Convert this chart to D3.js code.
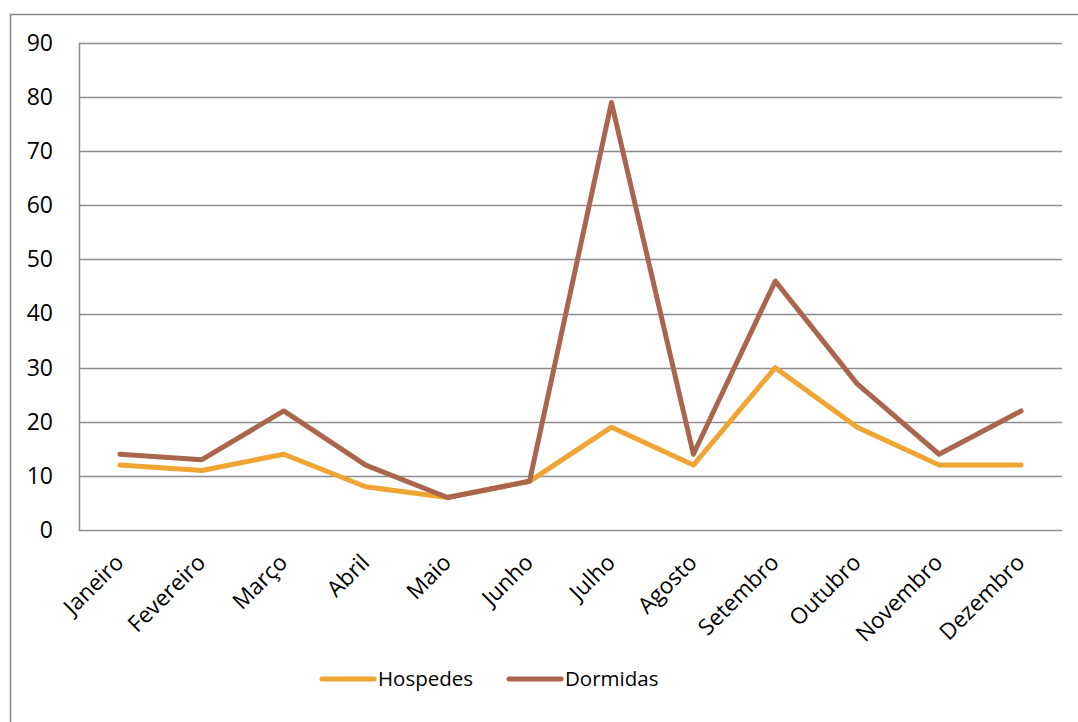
<!DOCTYPE html>
<html>
<head>
<meta charset="utf-8">
<script src="https://cdn.jsdelivr.net/npm/d3@7"></script>
<style>
  body { margin: 0; background: #fff; }
  svg { display: block; }
  svg text { font-family: "Open Sans", "Liberation Sans", sans-serif; }
</style>
</head>
<body>
<script>
// chart data
const months = ['Janeiro', 'Fevereiro', 'Março', 'Abril', 'Maio', 'Junho',
  'Julho', 'Agosto', 'Setembro', 'Outubro', 'Novembro', 'Dezembro'];
const hospedes = [12, 11, 14, 8, 6, 9, 19, 12, 30, 19, 12, 12];
const dormidas = [14, 13, 22, 12, 6, 9, 79, 14, 46, 27, 14, 22];
const yTicks = [0, 10, 20, 30, 40, 50, 60, 70, 80, 90];

const seriesList = [
  { name: 'Hospedes', values: hospedes, color: '#F0A431' },
  { name: 'Dormidas', values: dormidas, color: '#A9664C' }
];

const width = 1078, height = 722;
const plot = { left: 79, top: 43, right: 1062, bottom: 530 };

const svg = d3.select('body').append('svg')
  .attr('width', width).attr('height', height);

// outer chart frame
svg.append('rect')
  .attr('x', 10.5).attr('y', 14.5)
  .attr('width', 1100).attr('height', 760)
  .attr('fill', 'none').attr('stroke', '#868686').attr('stroke-width', 1.5);

const x = d3.scaleBand().domain(months).range([plot.left, plot.right]);
const y = d3.scaleLinear().domain([0, 90]).range([plot.bottom, plot.top]);

// grid lines
svg.append('g').selectAll('line').data(yTicks).join('line')
  .attr('x1', plot.left).attr('x2', plot.right)
  .attr('y1', d => Math.round(y(d)) + 0.5).attr('y2', d => Math.round(y(d)) + 0.5)
  .attr('stroke', '#8c8c8c').attr('stroke-width', 1.5);

// y axis
const yAxis = svg.append('g')
  .attr('transform', `translate(${plot.left},0)`)
  .call(d3.axisLeft(y).tickValues(yTicks).tickSize(0).tickPadding(26));
yAxis.attr('font-family', null);
yAxis.select('.domain').attr('stroke', '#8c8c8c').attr('stroke-width', 1.5);
yAxis.selectAll('text').attr('font-size', 23).attr('fill', '#000');

// x axis
const xAxis = svg.append('g')
  .attr('transform', `translate(0,${plot.bottom})`)
  .call(d3.axisBottom(x).tickSize(0).tickPadding(0));
xAxis.attr('font-family', null);
xAxis.select('.domain').remove();
xAxis.selectAll('text')
  .attr('font-size', 22.5).attr('fill', '#000')
  .attr('text-anchor', 'end')
  .attr('dy', 0)
  .attr('transform', 'translate(5,34) rotate(-45)');

// lines
const line = d3.line()
  .x((d, i) => x(months[i]) + x.bandwidth() / 2)
  .y(d => y(d));

svg.append('g').selectAll('path').data(seriesList).join('path')
  .attr('d', s => line(s.values))
  .attr('fill', 'none')
  .attr('stroke', s => s.color)
  .attr('stroke-width', 5)
  .attr('stroke-linejoin', 'round')
  .attr('stroke-linecap', 'round');

// legend
const legendX = [322, 509];
const legend = svg.append('g').selectAll('g').data(seriesList).join('g')
  .attr('transform', (s, i) => `translate(${legendX[i]},679)`);
legend.append('line')
  .attr('x1', 0).attr('x2', 52)
  .attr('stroke', s => s.color).attr('stroke-width', 5).attr('stroke-linecap', 'round');
legend.append('text')
  .attr('x', 56).attr('dy', '0.35em')
  .attr('font-size', 20.5).attr('fill', '#000')
  .text(s => s.name);
</script>
</body>
</html>
